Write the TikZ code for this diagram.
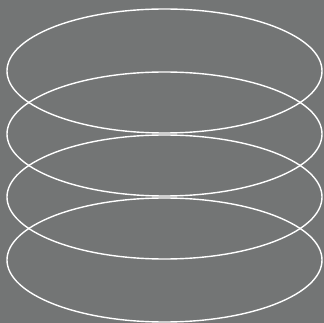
\documentclass[tikz,border=0pt]{standalone}
\usepackage{tikz}
\usepackage{xcolor}
\definecolor{cbg}{HTML}{737575}
\definecolor{cring}{HTML}{FFFFFF}
\tikzset{
  ring/.style={draw=cring, line width=1.4pt},
}

\begin{document}
\begin{tikzpicture}[x=1pt, y=-1pt]

%% ── Background ────────────────────────────────────────────
\fill[cbg] (0,0) rectangle (324,323);
\useasboundingbox (0,0) rectangle (324,323);

%% ── Stacked rings ─────────────────────────────────────────
\foreach \cy in {71,134,197,260}
  \draw[ring] (164.5,\cy) ellipse [x radius=157.5pt, y radius=62pt];

\end{tikzpicture}
\end{document}
